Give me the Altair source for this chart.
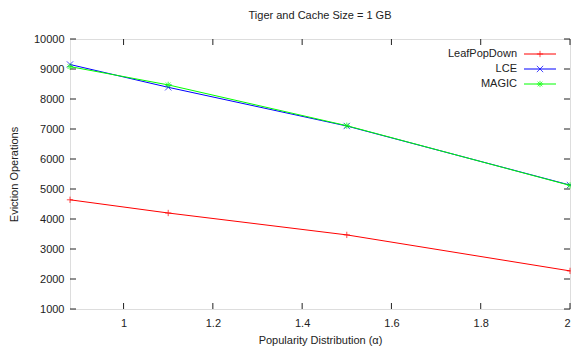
import altair as alt
import pandas as pd

series = ["LeafPopDown", "LCE", "MAGIC"]
colors = ["#ff0000", "#0000ff", "#00ff00"]
alpha = [0.88, 1.1, 1.5, 2.0]
leaf = [4640, 4200, 3470, 2270]
lce = [9150, 8390, 7100, 5130]
magic = [9080, 8470, 7110, 5120]
x_ticks = [1.0, 1.2, 1.4, 1.6, 1.8, 2.0]
y_ticks = [1000, 2000, 3000, 4000, 5000, 6000, 7000, 8000, 9000, 10000]

shapes = {
    "LeafPopDown": "M-1,0L1,0M0,-1L0,1",
    "LCE": "M-1,-1L1,1M-1,1L1,-1",
    "MAGIC": "M-1,0L1,0M0,-1L0,1M-0.75,-0.75L0.75,0.75M-0.75,0.75L0.75,-0.75",
}

rows = []
for name, vals in zip(series, [leaf, lce, magic]):
    for a, v in zip(alpha, vals):
        rows.append({"series": name, "alpha": a, "ops": v})
df = pd.DataFrame(rows)

W, H = 500, 270
FONT = "Liberation Sans"

xscale = alt.Scale(domain=[0.88, 2.0], nice=False, zero=False)
yscale = alt.Scale(domain=[1000, 10000], nice=False, zero=False)
cscale = alt.Scale(domain=series, range=colors)

xaxis = alt.Axis(values=x_ticks, ticks=False, domain=False, grid=False,
                 labelPadding=8, titlePadding=6, labelFontSize=11,
                 titleFontSize=11, titleFontWeight="normal", labelOverlap=False,
                 labelFont=FONT, titleFont=FONT, labelColor="#222", titleColor="#222",
                 labelExpr="format(datum.value, '.1~f')")
yaxis = alt.Axis(values=y_ticks, ticks=False, domain=False, grid=False,
                 labelPadding=6, titlePadding=14, labelFontSize=11, format="d",
                 titleFontSize=11, titleFontWeight="normal", labelOverlap=False,
                 labelFont=FONT, titleFont=FONT, labelColor="#222", titleColor="#222")


def X():
    return alt.X("alpha:Q", scale=xscale, axis=xaxis, title="Popularity Distribution (α)")


def Y():
    return alt.Y("ops:Q", scale=yscale, axis=yaxis, title="Eviction Operations")


base = alt.Chart(df)

xt = pd.DataFrame({"alpha": x_ticks})
yt = pd.DataFrame({"ops": y_ticks})
tick_color = "#222"
xtick_bot = alt.Chart(xt).mark_rule(color=tick_color).encode(
    x=X(), y=alt.value(H), y2=alt.value(H - 6))
xtick_top = alt.Chart(xt).mark_rule(color=tick_color).encode(
    x=X(), y=alt.value(0), y2=alt.value(6))
ytick_left = alt.Chart(yt).mark_rule(color=tick_color).encode(
    y=Y(), x=alt.value(0), x2=alt.value(6))
ytick_right = alt.Chart(yt).mark_rule(color=tick_color).encode(
    y=Y(), x=alt.value(W), x2=alt.value(W - 6))

layers = [xtick_bot, xtick_top, ytick_left, ytick_right]

for name in series:
    sub = base.transform_filter(alt.datum.series == name)
    layers.append(sub.mark_line(strokeWidth=1).encode(
        x=X(), y=Y(), color=alt.Color("series:N", scale=cscale, legend=None)))
    layers.append(sub.mark_point(shape=shapes[name], filled=False, size=40, strokeWidth=1).encode(
        x=X(), y=Y(), color=alt.Color("series:N", scale=cscale, legend=None)))

# Legend (gnuplot style: label, then line sample with marker)
leg = pd.DataFrame({"series": series, "idx": [0, 1, 2]})
leg_base = alt.Chart(leg).transform_calculate(py="15 + datum.idx * 15")
legend_layers = [
    leg_base.mark_text(align="right", baseline="middle", font=FONT, fontSize=11, color="#222").encode(
        x=alt.value(447), y=alt.value(0), text="series:N",
        yOffset=alt.YOffset("py:Q", scale=None)),
    leg_base.mark_rule(strokeWidth=1).encode(
        x=alt.value(454), x2=alt.value(486), y=alt.value(0),
        yOffset=alt.YOffset("py:Q", scale=None),
        color=alt.Color("series:N", scale=cscale, legend=None)),
]
for name in series:
    legend_layers.append(leg_base.transform_filter(alt.datum.series == name).mark_point(
        shape=shapes[name], filled=False, size=40, strokeWidth=1).encode(
        x=alt.value(470), y=alt.value(0),
        yOffset=alt.YOffset("py:Q", scale=None),
        color=alt.Color("series:N", scale=cscale, legend=None)))

chart = alt.layer(*layers, *legend_layers).properties(
    width=W, height=H,
    title=alt.Title("Tiger and Cache Size = 1 GB", font=FONT, fontSize=11, fontWeight="normal",
                    color="#222", anchor="middle", offset=12),
    autosize=alt.AutoSizeParams(type="none"),
    padding={"left": 62, "top": 31, "right": 1, "bottom": 37},
).configure_view(stroke="#222", strokeWidth=1).configure(background="white")

chart.save("out.html", embed_options={"renderer": "svg", "actions": False})
